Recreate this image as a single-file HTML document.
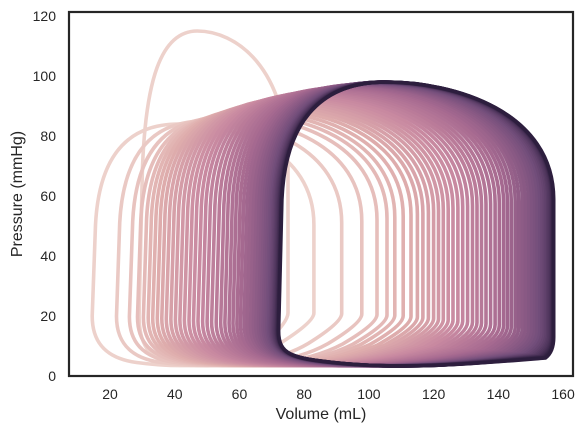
<!DOCTYPE html>
<html><head><meta charset="utf-8"><style>
html,body{margin:0;padding:0;background:#fff;}
svg{display:block;font-family:"Liberation Sans","DejaVu Sans",sans-serif;}
</style></head><body>
<svg id="chart" width="583" height="433" viewBox="0 0 583 433">
<defs><clipPath id="clip"><rect x="70" y="13" width="502" height="362"/></clipPath></defs>
<g id="loops" clip-path="url(#clip)"></g>
<rect x="69" y="12" width="504" height="364" fill="none" stroke="#262626" stroke-width="2.2"/>
<g id="xticks"></g>
<g id="yticks"></g>
<text x="321" y="419" text-anchor="middle" font-size="16" fill="#262626">Volume (mL)</text>
<text transform="translate(22,194) rotate(-90)" text-anchor="middle" font-size="16" fill="#262626">Pressure (mmHg)</text>
</svg>
<script>
// Data: per-loop end-systolic volume (left), end-diastolic volume (right), peak pressure
const esv = [29, 14.5, 22, 26, 28.5, 30.3, 31.8, 33.2, 34.6, 36, 37.4, 38.8, 40.2, 41.6, 43, 44.4, 45.8, 47.2, 48.6, 50, 51.4, 52.8, 54.2, 55.5, 56.8, 58, 59.2, 60.3, 61.4, 62.4, 63.4, 64.3, 65.1, 65.9, 66.6, 67.3, 67.9, 68.5, 69, 69.5, 69.9, 70.3, 70.6, 70.9, 71.2, 71.4, 71.6, 71.8, 71.9, 72, 72.1];
const edv = [75, 83, 91.6, 97.8, 102.5, 105.6, 108, 110.6, 113, 115, 116.7, 118.4, 120, 121.5, 123, 124.5, 126, 127.5, 129, 130.5, 132, 133.4, 134.8, 136.2, 137.6, 139, 140.3, 141.6, 142.8, 144, 145.2, 146.3, 147.4, 148.4, 149.4, 150.3, 151.2, 152, 152.8, 153.5, 154.2, 154.8, 155.3, 155.7, 156.1, 156.4, 156.6, 156.8, 156.9, 157, 157.1];
const peakP = [115, 84, 85, 86, 86.8, 87.5, 88.2, 88.8, 89.4, 90, 90.5, 91, 91.5, 92, 92.4, 92.8, 93.2, 93.6, 94, 94.3, 94.6, 94.9, 95.2, 95.5, 95.8, 96, 96.2, 96.4, 96.6, 96.8, 97, 97.1, 97.2, 97.3, 97.4, 97.5, 97.6, 97.7, 97.75, 97.8, 97.85, 97.9, 97.92, 97.94, 97.96, 97.98, 98, 98, 98, 98, 98];
const xTicks = [20, 40, 60, 80, 100, 120, 140, 160];
const yTicks = [0, 20, 40, 60, 80, 100, 120];

const X = v => 45.3 + 3.236 * v;
const Y = p => 376 - 3.0 * p;
const NS = 'http://www.w3.org/2000/svg';
const stops = [[0,[237,209,203]],[0.2,[223,174,173]],[0.4,[201,138,161]],[0.6,[166,105,144]],[0.8,[113,77,122]],[1,[45,30,62]]];
function col(k){
  for(let i=0;i<stops.length-1;i++){
    const [k0,c0]=stops[i],[k1,c1]=stops[i+1];
    if(k<=k1){const f=(k-k0)/(k1-k0);return 'rgb('+c0.map((c,j)=>Math.round(c+(c1[j]-c)*f)).join(',')+')';}
  }
  return 'rgb(45,30,62)';
}
function pt(v,p){return X(v).toFixed(1)+','+Y(p).toFixed(1);}
function loopPath(a,b,P,k){
  const w=b-a, t=a+0.39*w;
  const Lb=20-5*k, Rb=20-8*k, h=0.6*P;
  return 'M'+pt(a,Lb)+
   ' C'+pt(a,Lb-8)+' '+pt(a+0.05*w,6)+' '+pt(a+0.2*w,4.5)+
   ' C'+pt(a+0.45*w,2)+' '+pt(b-0.3*w,4)+' '+pt(b-(0.15-0.12*k)*w,Rb-9+3*k)+
   ' Q'+pt(b,Rb-2-2*k)+' '+pt(b,Rb+1)+
   ' L'+pt(b,h)+
   ' C'+pt(b,h+0.3*P)+' '+pt(t+0.25*w,P)+' '+pt(t,P)+
   ' C'+pt(t-0.25*w,P)+' '+pt(a+2,0.85*P)+' '+pt(a+1,0.6*P)+
   ' Z';
}
const g=document.getElementById('loops');
const n=esv.length;
for(let i=0;i<n;i++){
  const k = i===0 ? 0 : (i-1)/(n-2);
  const p=document.createElementNS(NS,'path');
  p.setAttribute('d',loopPath(esv[i],edv[i],peakP[i],k));
  p.setAttribute('fill','none');
  p.setAttribute('stroke',col(Math.pow(k,0.8)));
  p.setAttribute('stroke-width','3.6');
  p.setAttribute('stroke-linejoin','round');
  
  
  g.appendChild(p);
}
const xg=document.getElementById('xticks');
xTicks.forEach(v=>{
  const t=document.createElementNS(NS,'text');
  t.setAttribute('x',X(v));t.setAttribute('y',399);
  t.setAttribute('text-anchor','middle');t.setAttribute('font-size','14');t.setAttribute('fill','#262626');
  t.textContent=v;
  
  
  xg.appendChild(t);
});
const yg=document.getElementById('yticks');
yTicks.forEach(v=>{
  const t=document.createElementNS(NS,'text');
  t.setAttribute('x',56);t.setAttribute('y',Y(v)+5);
  t.setAttribute('text-anchor','end');t.setAttribute('font-size','14');t.setAttribute('fill','#262626');
  t.textContent=v;
  
  
  yg.appendChild(t);
});
</script>
</body></html>
